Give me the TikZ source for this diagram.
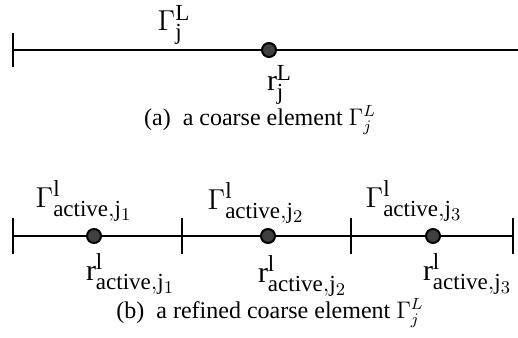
\documentclass[tikz,border=0pt]{standalone}
\usepackage{fontspec}
\setmainfont{Liberation Serif}
\usepackage{amsmath}
\DeclareMathSizes{15}{15}{11.5}{9}
\usetikzlibrary{positioning}

\begin{document}
\begin{tikzpicture}[x=0.5pt, y=0.5pt, line width=1pt,
    every node/.style={font=\fontsize{12}{14}\selectfont},
    dot/.style={circle, draw=black, fill=black!75, inner sep=0pt, minimum size=7pt},
    lbl/.style={inner sep=0.5pt, font=\fontsize{15}{17}\selectfont}]

    \useasboundingbox (0,0) rectangle (518,337);

    % =================================================================
    % 1. (a) PHAN TU THO
    % =================================================================
    \coordinate (a0) at (12.7,287);
    \coordinate (a1) at (518,287);
    \draw (a0) -- (a1);
    \draw ([yshift=8.5pt]a0) -- ([yshift=-8.5pt]a0);

    \node[dot] (ra) at (269,287) {};
    \node[lbl] (Ga) at (174,312) {$\Gamma^{\mathrm{L}}_{\mathrm{j}}$};
    \node[lbl, anchor=north west] (rla) at (265,274) {$\mathrm{r}^{\mathrm{L}}_{\mathrm{j}}$};

    \node (capa) at (260,217) {(a)\ \ a coarse element $\Gamma^{L}_{j}$};

    % =================================================================
    % 2. (b) PHAN TU THO DA TINH CHINH
    % =================================================================
    \coordinate (b0) at (12.7,101);
    \coordinate (b1) at (182,101);
    \coordinate (b2) at (351,101);
    \coordinate (b3) at (513,101);
    \draw (b0) -- (b3);
    \foreach \p in {b0,b1,b2,b3}
        \draw ([yshift=9pt]\p) -- ([yshift=-9pt]\p);

    \node[dot] (rb1) at (94,101) {};
    \node[dot] (rb2) at (268,101) {};
    \node[dot] (rb3) at (433,101) {};

    \node[lbl] (Gb1) at (84,136) {$\Gamma^{\mathrm{l}}_{\mathrm{active},\mathrm{j}_1}$};
    \node[lbl] (Gb2) at (256,134) {$\Gamma^{\mathrm{l}}_{\mathrm{active},\mathrm{j}_2}$};
    \node[lbl] (Gb3) at (414,136) {$\Gamma^{\mathrm{l}}_{\mathrm{active},\mathrm{j}_3}$};

    \node[lbl, anchor=north west] (rlb1) at (84,85) {$\mathrm{r}^{\mathrm{l}}_{\mathrm{active},\mathrm{j}_1}$};
    \node[lbl, anchor=north west] (rlb2) at (256,83) {$\mathrm{r}^{\mathrm{l}}_{\mathrm{active},\mathrm{j}_2}$};
    \node[lbl, anchor=north west] (rlb3) at (421,85) {$\mathrm{r}^{\mathrm{l}}_{\mathrm{active},\mathrm{j}_3}$};

    \node (capb) at (270,24) {(b)\ \ a refined coarse element $\Gamma^{L}_{j}$};

\end{tikzpicture}
\end{document}
